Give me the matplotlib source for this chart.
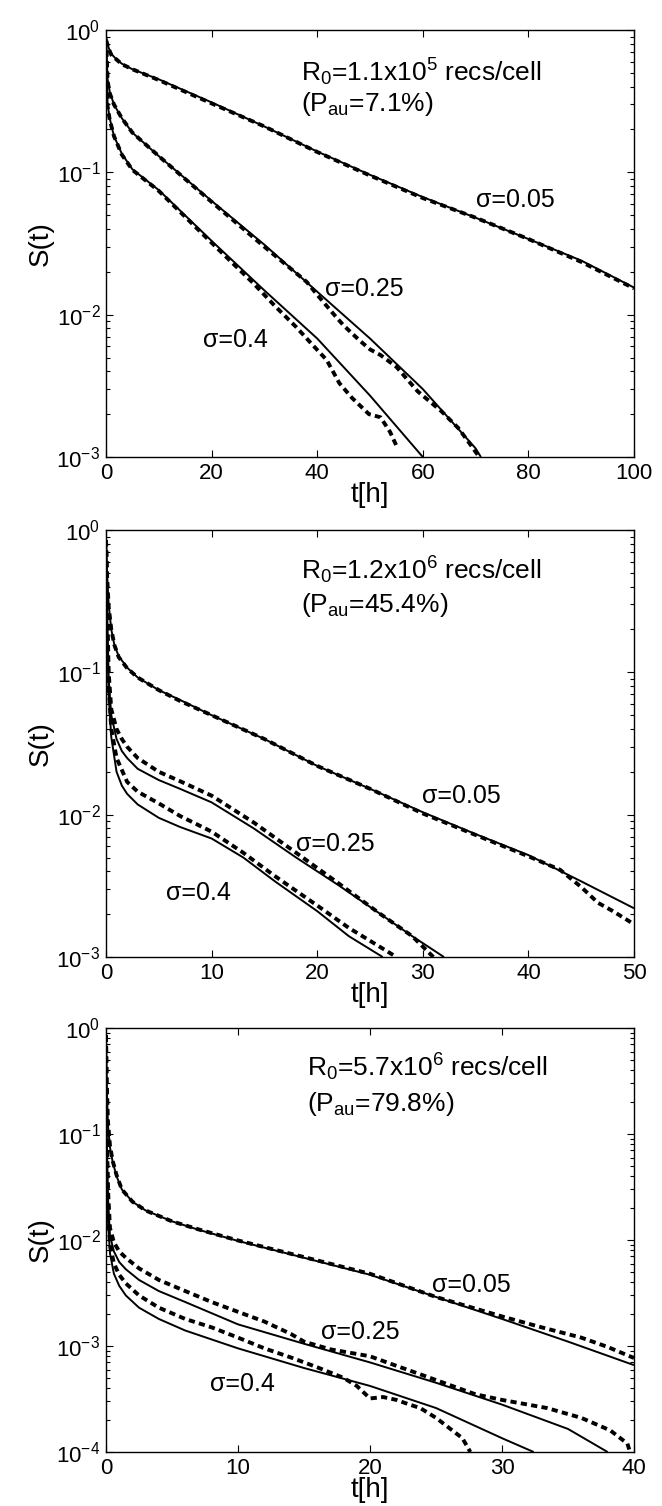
import numpy as np
import matplotlib.pyplot as plt
from matplotlib.ticker import LogLocator, NullFormatter, FixedLocator

plt.rcParams['font.family'] = ['Liberation Sans', 'DejaVu Sans']
plt.rcParams['mathtext.fontset'] = 'custom'
plt.rcParams['mathtext.rm'] = 'Liberation Sans'
plt.rcParams['mathtext.it'] = 'Liberation Sans:italic'

# ---------------- panel 1 : R0 = 1.1e5 ----------------
t1_s05 = [0, 0.5, 1, 2, 3, 5, 10, 20, 30, 40, 50, 60, 70, 80, 90, 100]
S1_s05 = [0.9, 0.75, 0.68, 0.62, 0.58, 0.53, 0.45, 0.31, 0.21, 0.14, 0.096, 0.067, 0.048, 0.034, 0.024, 0.0155]
t1_d05 = [0, 0.5, 1, 2, 3, 5, 10, 20, 30, 40, 50, 60, 70, 80, 90, 100]
S1_d05 = [0.85, 0.74, 0.67, 0.62, 0.575, 0.53, 0.445, 0.305, 0.21, 0.139, 0.095, 0.066, 0.048, 0.034, 0.0235, 0.0153]

t1_s25 = [0, 0.3, 0.7, 1.5, 3, 5, 10, 20, 30, 40, 50, 60, 70, 71]
S1_s25 = [0.9, 0.45, 0.37, 0.3, 0.24, 0.19, 0.13, 0.063, 0.031, 0.0145, 0.0068, 0.0030, 0.00115, 0.001]
t1_d25 = [0, 0.3, 0.7, 1.5, 3, 5, 10, 20, 30, 38, 40, 43, 45, 48, 50, 52, 55, 59, 63.5, 66.7, 68.5, 70.7]
S1_d25 = [0.85, 0.44, 0.36, 0.3, 0.24, 0.19, 0.13, 0.062, 0.030, 0.017, 0.0138, 0.0102, 0.0084, 0.0066, 0.0057, 0.0052, 0.0043, 0.0029, 0.0021, 0.0016, 0.0013, 0.001]

t1_s40 = [0, 0.3, 0.7, 1.5, 3, 5, 10, 20, 30, 40, 50, 60]
S1_s40 = [0.9, 0.3, 0.24, 0.18, 0.135, 0.105, 0.075, 0.033, 0.0148, 0.0068, 0.0027, 0.001]
t1_d40 = [0, 0.3, 0.7, 1.5, 3, 5, 10, 20, 28, 32, 36, 39, 41.8, 44.2, 46.6, 49.8, 52, 53.8, 55]
S1_d40 = [0.85, 0.29, 0.235, 0.18, 0.133, 0.104, 0.074, 0.032, 0.0165, 0.0115, 0.0082, 0.0062, 0.0048, 0.0033, 0.0026, 0.002, 0.0019, 0.0015, 0.0012]

# ---------------- panel 2 : R0 = 1.2e6 ----------------
t2_s05 = [0, 0.1, 0.25, 0.5, 0.8, 1.2, 2, 3, 5, 7, 10, 15, 20, 25, 30, 35, 40, 45, 50]
S2_s05 = [0.9, 0.5, 0.3, 0.2, 0.155, 0.13, 0.108, 0.092, 0.075, 0.064, 0.05, 0.034, 0.022, 0.0152, 0.0104, 0.0073, 0.0052, 0.0034, 0.0022]
t2_d05 = [0, 0.1, 0.25, 0.5, 0.8, 1.2, 2, 3, 5, 7, 10, 15, 20, 25, 30, 35, 40, 43, 45, 46.6, 48, 50]
S2_d05 = [0.85, 0.48, 0.29, 0.2, 0.155, 0.128, 0.107, 0.092, 0.075, 0.063, 0.05, 0.034, 0.022, 0.0152, 0.0102, 0.0072, 0.0051, 0.0041, 0.0031, 0.0024, 0.0021, 0.0017]

t2_s25 = [0, 0.1, 0.25, 0.5, 1, 1.5, 2, 3, 5, 7, 10, 14, 18, 22, 26, 29, 32]
S2_s25 = [0.9, 0.3, 0.09, 0.05, 0.034, 0.028, 0.025, 0.021, 0.0175, 0.0152, 0.0122, 0.0080, 0.0050, 0.0032, 0.0020, 0.0014, 0.001]
t2_d25 = [0, 0.1, 0.25, 0.5, 1, 1.5, 2, 3, 5, 7, 10, 14, 18, 22, 26, 29, 31]
S2_d25 = [0.85, 0.32, 0.1, 0.055, 0.04, 0.034, 0.03, 0.025, 0.02, 0.0172, 0.0136, 0.0088, 0.0054, 0.0033, 0.0020, 0.0014, 0.001]

t2_s40 = [0, 0.1, 0.25, 0.5, 1, 1.5, 2, 3, 5, 7, 10, 13, 16, 20, 23, 26.2]
S2_s40 = [0.9, 0.2, 0.07, 0.035, 0.02, 0.016, 0.014, 0.0118, 0.0095, 0.0082, 0.0068, 0.005, 0.0034, 0.0021, 0.0014, 0.001]
t2_d40 = [0, 0.1, 0.25, 0.5, 1, 2, 3, 5, 7, 10, 13, 16, 20, 23, 25, 27.5]
S2_d40 = [0.85, 0.22, 0.08, 0.04, 0.025, 0.017, 0.0145, 0.012, 0.0098, 0.0076, 0.0054, 0.0037, 0.0023, 0.0016, 0.0013, 0.001]

# ---------------- panel 3 : R0 = 5.7e6 ----------------
t3_s05 = [0, 0.05, 0.15, 0.3, 0.5, 0.8, 1.2, 2, 3, 5, 7, 10, 15, 20, 25, 30, 35, 40]
S3_s05 = [0.9, 0.3, 0.12, 0.075, 0.055, 0.04, 0.03, 0.023, 0.019, 0.015, 0.0125, 0.0098, 0.0068, 0.0047, 0.0029, 0.0018, 0.0011, 0.00066]
t3_d05 = [0, 0.05, 0.15, 0.3, 0.5, 0.8, 1.2, 2, 3, 5, 7, 10, 15, 20, 25, 30, 33, 36, 38, 40]
S3_d05 = [0.85, 0.32, 0.13, 0.078, 0.056, 0.041, 0.03, 0.023, 0.019, 0.015, 0.0126, 0.0099, 0.0069, 0.0048, 0.0029, 0.0019, 0.0015, 0.0012, 0.00098, 0.00077]

t3_s25 = [0, 0.05, 0.15, 0.3, 0.6, 1, 1.5, 2.5, 4, 6, 10, 15, 20, 25, 30, 35, 38]
S3_s25 = [0.9, 0.1, 0.025, 0.011, 0.0078, 0.0062, 0.0053, 0.0042, 0.0033, 0.0026, 0.0016, 0.00105, 0.0007, 0.00045, 0.00028, 0.000165, 0.0001]
t3_d25 = [0, 0.05, 0.15, 0.3, 0.6, 1, 1.5, 2.5, 4, 6, 8, 10, 12, 14, 15, 17, 20, 22, 24, 26, 28, 30, 33.4, 36, 38.2, 39.5, 39.7]
S3_d25 = [0.85, 0.12, 0.03, 0.013, 0.0095, 0.0078, 0.0068, 0.0054, 0.0042, 0.0033, 0.0026, 0.0021, 0.0017, 0.0013, 0.0011, 0.00093, 0.0008, 0.00065, 0.00053, 0.00043, 0.00035, 0.00031, 0.00026, 0.00021, 0.00016, 0.00012, 0.0001]

t3_s40 = [0, 0.05, 0.15, 0.3, 0.6, 1, 1.5, 2.5, 4, 6, 10, 15, 20, 25, 30, 32.4]
S3_s40 = [0.9, 0.08, 0.015, 0.0075, 0.0048, 0.0037, 0.003, 0.0023, 0.0018, 0.0014, 0.00095, 0.00062, 0.00042, 0.00026, 0.000135, 0.0001]
t3_d40 = [0, 0.05, 0.15, 0.3, 0.6, 1, 1.5, 2.5, 4, 6, 8, 10, 12, 14, 16, 18, 19, 20, 21, 22, 23, 23.8, 25, 25.7, 27, 27.6]
S3_d40 = [0.85, 0.09, 0.02, 0.009, 0.006, 0.0047, 0.0039, 0.003, 0.0023, 0.0018, 0.0015, 0.0012, 0.00095, 0.00078, 0.00063, 0.0005, 0.00042, 0.00032, 0.00033, 0.00031, 0.00028, 0.00026, 0.00021, 0.00018, 0.000135, 0.0001]

panels = [
    dict(xmax=100, xticks=[0, 20, 40, 60, 80, 100], ymin=1e-3,
         R0=r'R$_0$=1.1x10$^5$ recs/cell', Pau=r'(P$_{\mathrm{au}}$=7.1%)', tx=0.37, ty=(0.90, 0.827),
         curves=[(t1_s05, S1_s05, t1_d05, S1_d05), (t1_s25, S1_s25, t1_d25, S1_d25), (t1_s40, S1_s40, t1_d40, S1_d40)],
         labels=[(77.5, 0.064), (49.0, 0.0152), (24.5, 0.0066)]),
    dict(xmax=50, xticks=[0, 10, 20, 30, 40, 50], ymin=1e-3,
         R0=r'R$_0$=1.2x10$^6$ recs/cell', Pau=r'(P$_{\mathrm{au}}$=45.4%)', tx=0.37, ty=(0.905, 0.825),
         curves=[(t2_s05, S2_s05, t2_d05, S2_d05), (t2_s25, S2_s25, t2_d25, S2_d25), (t2_s40, S2_s40, t2_d40, S2_d40)],
         labels=[(33.7, 0.0136), (21.7, 0.0062), (8.8, 0.0028)]),
    dict(xmax=40, xticks=[0, 10, 20, 30, 40], ymin=1e-4,
         R0=r'R$_0$=5.7x10$^6$ recs/cell', Pau=r'(P$_{\mathrm{au}}$=79.8%)', tx=0.38, ty=(0.908, 0.82),
         curves=[(t3_s05, S3_s05, t3_d05, S3_d05), (t3_s25, S3_s25, t3_d25, S3_d25), (t3_s40, S3_s40, t3_d40, S3_d40)],
         labels=[(27.65, 0.0038), (19.3, 0.00135), (10.3, 0.00044)]),
]
sigma_labels = ['σ=0.05', 'σ=0.25', 'σ=0.4']

fig = plt.figure(figsize=(6.62, 15.06), dpi=100)
W, H = 662, 1506
boxes = [(30, 457), (530, 957), (1028, 1452)]

for p, (top, bot) in zip(panels, boxes):
    ax = fig.add_axes([106 / W, 1 - bot / H, 528 / W, (bot - top) / H])
    for ts, Ss, td, Sd in p['curves']:
        ax.plot(ts, Ss, color='black', lw=1.4, solid_capstyle='butt')
        ax.plot(td, Sd, color='black', lw=2.8, dashes=(1.6, 1.1))
    ax.set_yscale('log')
    ax.set_xlim(0, p['xmax'])
    ax.set_ylim(p['ymin'], 1)
    ax.xaxis.set_major_locator(FixedLocator(p['xticks']))
    ax.yaxis.set_major_locator(LogLocator(base=10, numticks=10))
    ax.yaxis.set_minor_locator(LogLocator(base=10, subs=np.arange(2, 10), numticks=10))
    ax.yaxis.set_minor_formatter(NullFormatter())
    ax.tick_params(which='both', direction='in', top=True, right=True, labelsize=16, width=0.8)
    ax.tick_params(which='major', length=5, pad=4)
    ax.tick_params(which='minor', length=3)
    for sp in ax.spines.values():
        sp.set_linewidth(1.0)
    ax.set_xlabel('t[h]', fontsize=20, labelpad=-1)
    ax.set_ylabel('S(t)', fontsize=20, labelpad=2)
    ax.text(p['tx'], p['ty'][0], p['R0'], transform=ax.transAxes, fontsize=19, va='center', ha='left')
    ax.text(p['tx'], p['ty'][1], p['Pau'], transform=ax.transAxes, fontsize=19, va='center', ha='left')
    for lab, (lx, ly) in zip(sigma_labels, p['labels']):
        ax.text(lx, ly, lab, fontsize=18, ha='center', va='center')

fig.savefig('out.png', dpi=100)
